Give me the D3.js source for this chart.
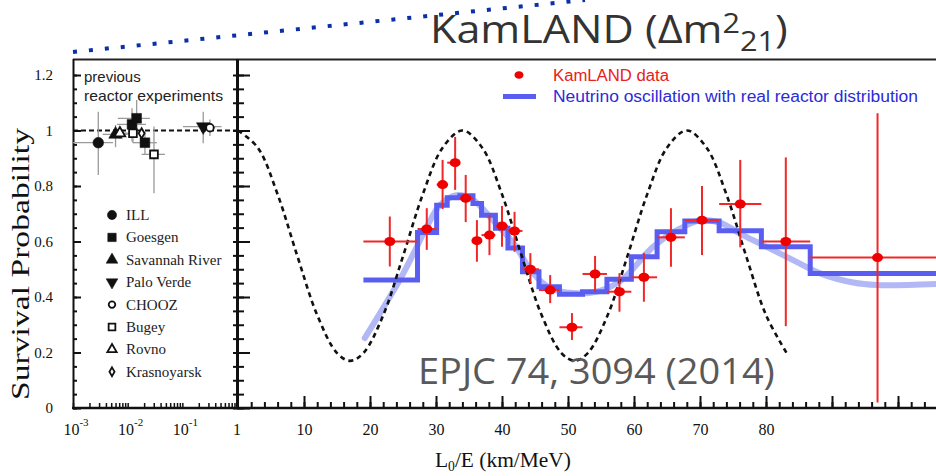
<!DOCTYPE html>
<html><head><meta charset="utf-8">
<script src="https://cdn.jsdelivr.net/npm/d3@7"></script>
<style>body{margin:0;background:#fff}</style>
</head><body>
<script>
// KamLAND bins (L0/E, km/MeV) and measured survival probability
const binEdges = [19.0, 27.2, 30.1, 31.7, 33.6, 35.6, 36.9, 39.0, 40.9, 43.1, 45.6, 48.7, 52.2, 55.9, 59.6, 63.5, 67.7, 72.9, 79.3, 86.7, 110]
const dataLE = [23.0, 28.6, 31.0, 32.9, 34.5, 36.2, 38.1, 40.0, 41.9, 44.3, 47.3, 50.6, 54.1, 57.8, 61.5, 65.6, 70.3, 76.1, 83.0, 96.9]
const dataP  = [0.60, 0.645, 0.805, 0.884, 0.756, 0.603, 0.623, 0.656, 0.638, 0.50, 0.425, 0.291, 0.483, 0.419, 0.471, 0.615, 0.677, 0.735, 0.60, 0.542]
const dataLo = [0.51, 0.57, 0.717, 0.786, 0.67, 0.527, 0.551, 0.581, 0.563, 0.45, 0.378, 0.245, 0.419, 0.347, 0.383, 0.509, 0.551, 0.579, 0.295, 0.02]
const dataHi = [0.69, 0.72, 0.894, 0.977, 0.84, 0.677, 0.695, 0.728, 0.707, 0.558, 0.479, 0.342, 0.548, 0.486, 0.559, 0.72, 0.80, 0.894, 0.903, 1.062]

// oscillation expectation with real reactor distribution (histogram per bin)
const histP = [0.461, 0.632, 0.731, 0.758, 0.765, 0.737, 0.695, 0.648, 0.577, 0.491, 0.437, 0.41, 0.419, 0.464, 0.545, 0.635, 0.674, 0.639, 0.581, 0.485]

// smooth light curve
const smoothLE = [19.2, 21.5, 24.5, 26.6, 28.6, 30.6, 33.1, 35.6, 38.6, 41.7, 44.7, 47.3, 50.8, 54.3, 57.9, 59.4, 62.9, 66.5, 70.2, 73.0, 76.5, 80.1, 84.1, 88.2, 93.2, 96.8, 106]
const smoothP  = [0.252, 0.341, 0.461, 0.557, 0.653, 0.731, 0.767, 0.75, 0.677, 0.595, 0.486, 0.432, 0.414, 0.419, 0.457, 0.49, 0.581, 0.641, 0.677, 0.668, 0.623, 0.581, 0.533, 0.485, 0.452, 0.443, 0.447]

// dashed curve (single baseline)
const dashLE = [0, 3, 6, 9, 12, 15, 17, 19, 22, 25, 28, 31, 34, 37, 40, 43, 46, 49, 51, 53, 56, 59, 62, 65, 68, 71, 74, 77, 80, 83.2]
const dashP  = [1.0, 0.938, 0.77, 0.547, 0.335, 0.198, 0.17, 0.198, 0.334, 0.547, 0.77, 0.938, 1.0, 0.938, 0.77, 0.547, 0.335, 0.198, 0.17, 0.198, 0.334, 0.547, 0.77, 0.938, 1.0, 0.938, 0.77, 0.547, 0.335, 0.195]

// previous reactor experiments (left log panel)
const prevName = ['ILL', 'Savannah River', 'Rovno', 'Goesgen', 'Bugey', 'Goesgen', 'Krasnoyarsk', 'Goesgen', 'Bugey', 'Palo Verde', 'CHOOZ']
const prevX   = [0.0029, 0.0060, 0.0072, 0.012, 0.0125, 0.0146, 0.018, 0.0207, 0.0303, 0.241, 0.32]
const prevP   = [0.956, 0.986, 0.99, 1.022, 0.99, 1.044, 0.99, 0.956, 0.914, 1.014, 1.01]
const prevLo  = [0.84, 0.94, 0.97, 0.96, 0.955, 0.984, 0.975, 0.912, 0.774, 0.954, 0.98]
const prevHi  = [1.068, 1.02, 1.01, 1.08, 1.03, 1.11, 1.005, 0.995, 1.014, 1.068, 1.04]
const prevXlo = [0.00088, 0.0035, 0.005, 0.0064, 0.009, 0.0066, 0.0155, 0.0125, 0.018, 0.103, 0.25]
const prevXhi = [0.0054, 0.010, 0.0095, 0.0216, 0.017, 0.0255, 0.021, 0.0343, 0.048, 0.52, 0.40]
const legendNames = ['ILL', 'Goesgen', 'Savannah River', 'Palo Verde', 'CHOOZ', 'Bugey', 'Rovno', 'Krasnoyarsk']

const yTicks = [0, 0.2, 0.4, 0.6, 0.8, 1, 1.2]
const linLabels = [10, 20, 30, 40, 50, 60, 70, 80]
const logLabels = [[1e-3, '-3'], [1e-2, '-2'], [1e-1, '-1'], [1, '']]

const serif = '"Liberation Serif", "Times New Roman", serif'
const sans = '"Liberation Sans", Arial, sans-serif'

const svg = d3.select('body').append('svg')
    .attr('width', 936)
    .attr('height', 476)

const y = d3.scaleLinear().domain([0, 1.2]).range([408, 75])
const xLog = d3.scaleLog().domain([1e-3, 1]).range([73, 237])
const xLin = d3.scaleLinear().domain([0, 100]).range([238, 898])

const defs = svg.append('defs')
defs.append('clipPath').attr('id', 'clipL').append('rect')
    .attr('x', 73).attr('y', 59).attr('width', 164).attr('height', 349)
defs.append('clipPath').attr('id', 'clipR').append('rect')
    .attr('x', 238).attr('y', 59).attr('width', 698).attr('height', 349)

// helper: squeeze a text element to a given width
const fitWidth = (sel, x0, target) => {
    const w = sel.node().getBBox().width
    sel.attr('transform', `translate(${x0},0) scale(${target / w},1) translate(${-x0},0)`)
}

// blue dotted pointer line at the top
svg.append('line')
    .attr('x1', 73).attr('y1', 52).attr('x2', 585).attr('y2', 0)
    .attr('stroke', '#0b2fa8').attr('stroke-width', 4)
    .attr('stroke-dasharray', '4 12')

// frame
svg.append('line').attr('x1', 73).attr('x2', 936).attr('y1', 59.5).attr('y2', 59.5)
    .attr('stroke', '#222').attr('stroke-width', 2)
svg.append('line').attr('x1', 73.5).attr('x2', 73.5).attr('y1', 59).attr('y2', 409)
    .attr('stroke', '#111').attr('stroke-width', 2)
svg.append('line').attr('x1', 237.5).attr('x2', 237.5).attr('y1', 59).attr('y2', 409)
    .attr('stroke', '#111').attr('stroke-width', 3)
svg.append('line').attr('x1', 72).attr('x2', 936).attr('y1', 408).attr('y2', 408)
    .attr('stroke', '#111').attr('stroke-width', 2.5)

const minorY = d3.range(0, 1.2001, 0.05)

const styleAxis = g => {
    g.select('.domain').remove()
    g.selectAll('.tick line').attr('stroke', '#111').attr('stroke-width', 2)
}

// left y axis
svg.append('g').attr('transform', 'translate(73,0)')
    .call(d3.axisLeft(y).tickValues(minorY).tickSize(-4).tickFormat(''))
    .call(styleAxis)
svg.append('g').attr('transform', 'translate(73,0)')
    .call(d3.axisLeft(y).tickValues(yTicks).tickSize(-8).tickPadding(20).tickFormat(d3.format('.1~f')))
    .call(styleAxis)
    .call(g => g.selectAll('text').attr('font-family', serif).attr('font-size', 15).attr('fill', '#111'))

// middle axis (ticks both sides)
svg.append('g').attr('transform', 'translate(237,0)')
    .call(d3.axisLeft(y).tickValues(minorY).tickSize(4).tickFormat(''))
    .call(styleAxis)
svg.append('g').attr('transform', 'translate(237,0)')
    .call(d3.axisRight(y).tickValues(minorY).tickSize(7).tickFormat(''))
    .call(styleAxis)
svg.append('g').attr('transform', 'translate(237,0)')
    .call(d3.axisRight(y).tickValues(yTicks).tickSize(13).tickFormat(''))
    .call(styleAxis)

// bottom axes
svg.append('g').attr('transform', 'translate(0,408)')
    .call(d3.axisTop(xLog).tickValues(xLog.ticks()).tickSize(5).tickFormat(''))
    .call(styleAxis)
    .call(g => g.selectAll('.tick line').attr('stroke-width', 1.5))
svg.append('g').attr('transform', 'translate(0,408)')
    .call(d3.axisTop(xLin).tickValues(d3.range(2, 106, 2)).tickSize(6).tickFormat(''))
    .call(styleAxis)
svg.append('g').attr('transform', 'translate(0,408)')
    .call(d3.axisTop(xLin).tickValues(d3.range(10, 106, 10)).tickSize(12).tickFormat(''))
    .call(styleAxis)
svg.append('g').attr('transform', 'translate(0,408)')
    .call(d3.axisBottom(xLin).tickValues(linLabels).tickSize(0).tickPadding(16))
    .call(g => g.select('.domain').remove())
    .call(g => g.selectAll('text').attr('font-family', serif).attr('font-size', 16).attr('fill', '#111'))

const logText = svg.append('g').selectAll('text')
    .data(logLabels)
    .join('text')
    .attr('x', d => xLog(d[0]) + (d[1] ? 3 : 0))
    .attr('y', 435)
    .attr('text-anchor', 'middle')
    .attr('font-family', serif)
    .attr('font-size', 16)
    .attr('fill', '#111')
logText.append('tspan').text(d => d[1] ? '10' : '1')
logText.append('tspan').attr('dy', -9).attr('font-size', 11).text(d => d[1])

// axis titles
svg.append('text')
    .attr('transform', 'translate(29,264) rotate(-90)')
    .attr('text-anchor', 'middle')
    .attr('font-family', serif).attr('font-size', 26).attr('fill', '#111')
    .attr('textLength', 272).attr('lengthAdjust', 'spacingAndGlyphs')
    .text('Survival Probability')

const xt = svg.append('text')
    .attr('x', 435).attr('y', 467)
    .attr('font-family', serif).attr('font-size', 22).attr('fill', '#111')
xt.append('tspan').text('L')
xt.append('tspan').attr('dy', 4).attr('font-size', 14).text('0')
xt.append('tspan').attr('dy', -4).text('/E (km/MeV)')
fitWidth(xt, 435, 136)

// left panel
const left = svg.append('g').attr('clip-path', 'url(#clipL)')
left.append('line')
    .attr('x1', xLog(1e-3)).attr('x2', xLog(1))
    .attr('y1', y(1)).attr('y2', y(1))
    .attr('stroke', '#111').attr('stroke-width', 2.2).attr('stroke-dasharray', '5 3')

const idx = d3.range(prevName.length)
left.selectAll('.pv').data(idx).join('line')
    .attr('x1', i => xLog(prevX[i])).attr('x2', i => xLog(prevX[i]))
    .attr('y1', i => y(prevLo[i])).attr('y2', i => y(prevHi[i]))
    .attr('stroke', '#9a9a9a').attr('stroke-width', 1.3)
left.selectAll('.ph').data(idx).join('line')
    .attr('x1', i => xLog(prevXlo[i])).attr('x2', i => xLog(prevXhi[i]))
    .attr('y1', i => y(prevP[i])).attr('y2', i => y(prevP[i]))
    .attr('stroke', '#9a9a9a').attr('stroke-width', 1.3)

const markerOf = {
    'ILL': [d3.symbolCircle, 90, true, 0],
    'Goesgen': [d3.symbolSquare, 95, true, 0],
    'Savannah River': [d3.symbolTriangle, 80, true, 0],
    'Palo Verde': [d3.symbolTriangle, 80, true, 180],
    'CHOOZ': [d3.symbolCircle, 45, false, 0],
    'Bugey': [d3.symbolSquare, 60, false, 0],
    'Rovno': [d3.symbolTriangle, 50, false, 0],
    'Krasnoyarsk': [d3.symbolDiamond, 30, false, 0]
}
const drawMarker = (sel, name, sc) => {
    const m = markerOf[name]
    sel.attr('d', d3.symbol(m[0], m[1] * sc))
        .attr('fill', m[2] ? '#111' : '#fff')
        .attr('stroke', '#111')
        .attr('stroke-width', m[2] ? 0.5 : 1.8)
}
idx.forEach(i => {
    left.append('path')
        .attr('transform', `translate(${xLog(prevX[i])},${y(prevP[i])}) rotate(${markerOf[prevName[i]][3]})`)
        .call(drawMarker, prevName[i], 1)
})

svg.append('text').attr('x', 84).attr('y', 82)
    .attr('font-family', sans).attr('font-size', 15).attr('fill', '#222')
    .text('previous')
svg.append('text').attr('x', 84).attr('y', 101)
    .attr('font-family', sans).attr('font-size', 15).attr('fill', '#222')
    .attr('textLength', 139).attr('lengthAdjust', 'spacingAndGlyphs')
    .text('reactor experiments')

legendNames.forEach((n, i) => {
    const ly = 215 + i * 22.4
    svg.append('path')
        .attr('transform', `translate(112,${ly}) rotate(${markerOf[n][3]})`)
        .call(drawMarker, n, 0.75)
    svg.append('text').attr('x', 126).attr('y', ly + 5)
        .attr('font-family', serif).attr('font-size', 15).attr('fill', '#222')
        .text(n)
})

// right panel
const right = svg.append('g').attr('clip-path', 'url(#clipR)')

right.append('path')
    .datum(d3.zip(smoothLE, smoothP))
    .attr('d', d3.line().x(d => xLin(d[0])).y(d => y(d[1])).curve(d3.curveCatmullRom))
    .attr('fill', 'none').attr('stroke', '#b2b8f5').attr('stroke-width', 6)
    .attr('stroke-linecap', 'round')

const stepPts = histP.map((p, i) => [binEdges[i], p]).concat([[binEdges[binEdges.length - 1], histP[histP.length - 1]]])
right.append('path')
    .datum(stepPts)
    .attr('d', d3.line().x(d => xLin(d[0])).y(d => y(d[1])).curve(d3.curveStepAfter))
    .attr('fill', 'none').attr('stroke', '#5a5ef0').attr('stroke-width', 5)

right.append('path')
    .datum(d3.zip(dashLE, dashP))
    .attr('d', d3.line().x(d => xLin(d[0])).y(d => y(d[1])).curve(d3.curveCatmullRom))
    .attr('fill', 'none').attr('stroke', '#111').attr('stroke-width', 2.6)
    .attr('stroke-dasharray', '5 4')

const di = d3.range(dataLE.length)
right.selectAll('.ev').data(di).join('line')
    .attr('x1', i => xLin(dataLE[i])).attr('x2', i => xLin(dataLE[i]))
    .attr('y1', i => y(dataLo[i])).attr('y2', i => y(dataHi[i]))
    .attr('stroke', '#f02828').attr('stroke-width', 2)
right.selectAll('.eh').data(di).join('line')
    .attr('x1', i => xLin(binEdges[i])).attr('x2', i => xLin(binEdges[i + 1]))
    .attr('y1', i => y(dataP[i])).attr('y2', i => y(dataP[i]))
    .attr('stroke', '#f02828').attr('stroke-width', 2)
right.selectAll('.pt').data(di).join('ellipse')
    .attr('cx', i => xLin(dataLE[i])).attr('cy', i => y(dataP[i]))
    .attr('rx', 5.5).attr('ry', 4.5)
    .attr('fill', '#ee0000')

// legend
svg.append('ellipse').attr('cx', 519).attr('cy', 75).attr('rx', 4.5).attr('ry', 3.8).attr('fill', '#ee0000')
svg.append('text').attr('x', 553).attr('y', 81)
    .attr('font-family', sans).attr('font-size', 16).attr('fill', '#e82020')
    .attr('textLength', 116).attr('lengthAdjust', 'spacingAndGlyphs')
    .text('KamLAND data')
svg.append('line').attr('x1', 503).attr('x2', 536).attr('y1', 96.5).attr('y2', 96.5)
    .attr('stroke', '#5a5ef0').attr('stroke-width', 5)
svg.append('text').attr('x', 553).attr('y', 102)
    .attr('font-family', sans).attr('font-size', 16).attr('fill', '#2b2bd8')
    .attr('textLength', 365).attr('lengthAdjust', 'spacingAndGlyphs')
    .text('Neutrino oscillation with real reactor distribution')

// reference and title
const ep = svg.append('text').attr('x', 418).attr('y', 384)
    .attr('font-family', '"Open Sans", "Noto Sans", sans-serif').attr('font-size', 37).attr('fill', '#595959')
    .text('EPJC 74, 3094 (2014)')
fitWidth(ep, 418, 357)

const title = svg.append('text').attr('x', 430).attr('y', 43)
    .attr('font-family', '"Open Sans", "Noto Sans", sans-serif').attr('font-size', 38).attr('fill', '#333')
title.append('tspan').text('KamLAND (\u0394m')
title.append('tspan').attr('dy', -10).attr('font-size', 27).text('2')
title.append('tspan').attr('dy', 18).attr('font-size', 27).text('21')
title.append('tspan').attr('dy', -8).text(')')
fitWidth(title, 430, 358)
</script>
</body></html>
